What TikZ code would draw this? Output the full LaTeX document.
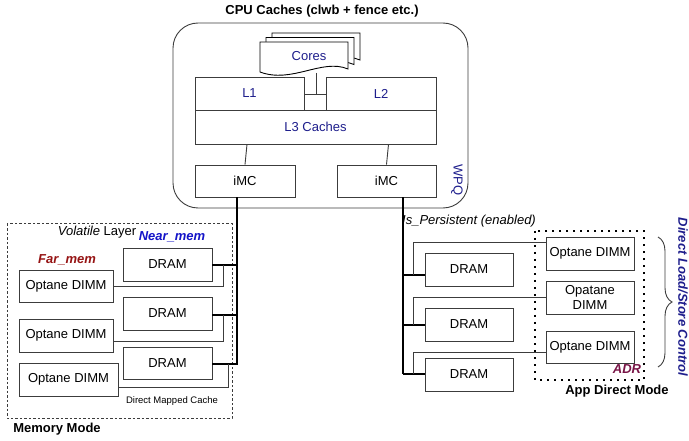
\documentclass[tikz,border=0pt]{standalone}
\usepackage{fontspec}
\setmainfont{Liberation Sans}
\usetikzlibrary{decorations.pathreplacing}
\definecolor{navytext}{RGB}{30,30,140}
\definecolor{nearblue}{RGB}{20,20,200}
\definecolor{farred}{RGB}{150,20,20}
\definecolor{adrred}{RGB}{120,20,70}
\definecolor{edge}{RGB}{60,60,60}

\begin{document}
\begin{tikzpicture}[x=1pt,y=-1pt,
  every node/.style={font=\fontsize{13}{15}\selectfont},
  box/.style={draw=edge,line width=0.9pt,fill=white,inner sep=0pt,minimum height=33pt},
  doc/.style={draw=black,line width=0.9pt,fill=white},
  bus/.style={line width=1.8pt},
  link/.style={draw=edge,line width=0.9pt},
  tag/.style={inner sep=0pt},
  bold/.style={tag,font=\fontsize{13}{15}\selectfont\bfseries}]
  \useasboundingbox (0,0) rectangle (689,441);

  \node[bold] (title) at (322,11) {CPU Caches (clwb + fence etc.)};
  \draw[link,rounded corners=25pt] (173,23) rectangle (468,208);

  \foreach \dx/\dy in {12/-9,6/-4.5,0/0}
    \draw[doc,shift={(\dx,\dy)}] (260,42) -- (348,42) -- (348,69)
      .. controls (322,58) and (292,84) .. (260,72) -- cycle;
  \node[tag,text=navytext] (cores) at (309,56) {Cores};
  \coordinate (coresfoot) at (316,73);
  \coordinate (cj) at (316,94);

  \node[box,text=navytext,minimum width=109pt] (l1) at (249.5,93.5) {L1};
  \node[box,text=navytext,minimum width=110pt] (l2) at (381,93.5) {L2};
  \node[box,text=navytext,minimum width=241pt,minimum height=34pt] (l3) at (315.5,127) {L3 Caches};
  \draw[link] (coresfoot) -- (cj);
  \draw[link] (l1.east |- cj) -- (l2.west |- cj);

  \node[box,minimum width=100pt,minimum height=32pt] (imcL) at (245,181) {iMC};
  \node[box,minimum width=99pt,minimum height=32pt] (imcR) at (386.5,181) {iMC};
  \draw[link] (imcL.north) -- ([xshift=2pt]imcL.north |- l3.south);
  \draw[link] (imcR.north) -- ([xshift=2pt]imcR.north |- l3.south);
  \node[tag,rotate=-90,text=navytext] (wpq) at (457,180) {WPQ};

  % memory mode
  \draw[draw=edge,line width=1pt,dash pattern=on 2.5pt off 2pt] (7,224) rectangle (232,418);
  \node[tag] (volatile) at (97,232) {\textit{Volatile} Layer};
  \node[tag,text=nearblue,font=\fontsize{13}{15}\selectfont\bfseries\itshape] (near) at (172,237) {Near\_mem};
  \node[tag,text=farred,font=\fontsize{13}{15}\selectfont\bfseries\itshape] (far) at (67,260) {Far\_mem};

  \node[box,minimum width=94pt,minimum height=32pt] (optL1) at (66,286) {Optane DIMM};
  \node[box,minimum width=94pt] (optL2) at (66,335.5) {Optane DIMM};
  \node[box,minimum width=99pt] (optL3) at (68.5,379.5) {Optane DIMM};
  \node[box,minimum width=89pt] (dramL1) at (167.5,264.5) {DRAM};
  \node[box,minimum width=89pt] (dramL2) at (167.5,313.5) {DRAM};
  \node[box,minimum width=89pt,minimum height=32pt] (dramL3) at (167.5,363) {DRAM};

  \coordinate (busL) at (237,365);
  \coordinate (jL1) at (223,265);
  \coordinate (jL2) at (223,315);
  \coordinate (jL3) at (228,364);
  \draw[bus] (busL |- imcL.south) -- (busL);
  \foreach \i in {1,2,3}
    \draw[bus] (dramL\i.east |- jL\i) -- (busL |- jL\i);
  \draw[link] (optL1.east) -| (jL1);
  \draw[link] ([yshift=-5.5pt]optL2.east) -| (jL2);
  \draw[link] ([yshift=-7.5pt]optL3.east) -| (jL3);

  \node[tag,font=\fontsize{9.5}{11}\selectfont] (dmc) at (172,401) {Direct Mapped Cache};
  \node[bold] (memmode) at (57,429) {Memory Mode};

  % app direct mode
  \node[tag,font=\fontsize{13}{15}\selectfont\itshape] (persist) at (469,221) {Is\_Persistent (enabled)};
  \draw[line width=1.7pt,dash pattern=on 1.7pt off 5.3pt] (535,231) rectangle (644,380);

  \node[box,minimum width=88pt] (dramR1) at (469,269.5) {DRAM};
  \node[box,minimum width=88pt] (dramR2) at (469,324.5) {DRAM};
  \node[box,minimum width=88pt] (dramR3) at (469,374.5) {DRAM};
  \node[box,minimum width=88pt] (optR1) at (590,253.5) {Optane DIMM};
  \node[box,minimum width=88pt,align=center,font=\fontsize{13}{14.5}\selectfont] (optR2) at (590,297.5) {Opatane\\DIMM};
  \node[box,minimum width=88pt,minimum height=32pt] (optR3) at (590,347) {Optane DIMM};

  \coordinate (busR) at (403,374);
  \coordinate (jR1) at (413,275);
  \coordinate (jR2) at (413,325);
  \coordinate (jR3) at (413,374);
  \draw[bus] (busR |- imcR.south) -- (busR);
  \foreach \i in {1,2,3}
    \draw[bus] (busR |- jR\i) -- (dramR\i.west |- jR\i);
  \draw[link] ([yshift=11.5pt]optR1.west) -| (jR1);
  \draw[link] (optR2.west) -| (jR2);
  \draw[link] ([yshift=-5pt]optR3.west) -| (jR3);

  \node[tag,text=adrred,font=\fontsize{13}{15}\selectfont\bfseries\itshape] (adr) at (627,369) {ADR};
  \node[bold] (appmode) at (617,391) {App Direct Mode};

  \coordinate (braceT) at (658,237);
  \coordinate (braceB) at (658,367);
  \draw[link,decorate,decoration={brace,amplitude=14pt}] (braceT) -- (braceB);
  \node[tag,rotate=-90,text=navytext,font=\fontsize{13}{15}\selectfont\bfseries\itshape] (dlsc) at (683,297) {Direct Load/Store Control};
\end{tikzpicture}
\end{document}
